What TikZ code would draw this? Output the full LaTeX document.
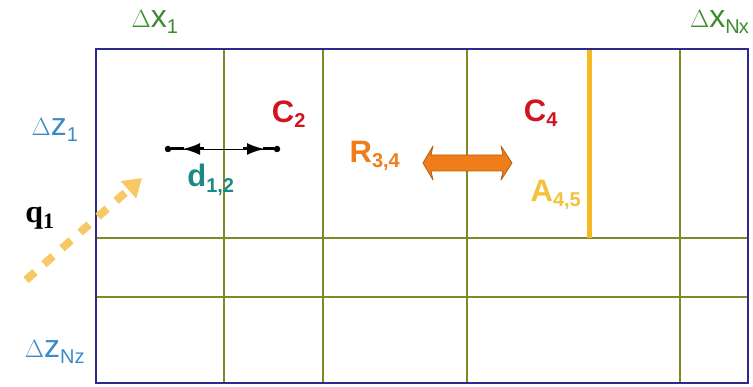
\documentclass[tikz,border=0pt]{standalone}
\usepackage{fontspec}
\setmainfont{Liberation Sans}
\newfontfamily\serifbold{Liberation Serif}
\usetikzlibrary{arrows.meta}
\definecolor{borderc}{HTML}{2E2A8C}
\definecolor{gridc}{HTML}{7F8A26}
\definecolor{barc}{HTML}{F6B823}
\definecolor{greenl}{HTML}{3C8C2E}
\definecolor{bluel}{HTML}{3A8CC8}
\definecolor{redl}{HTML}{D2141E}
\definecolor{orangel}{HTML}{F07D1A}
\definecolor{yellowl}{HTML}{F2C23A}
\definecolor{teall}{HTML}{1C8A84}
\definecolor{qarrow}{HTML}{F8C865}
\tikzset{
  gridline/.style={gridc, line width=1.8pt},
  lbl/.style={font=\fontsize{32}{34}\selectfont, inner sep=0pt},
  blbl/.style={font=\bfseries\fontsize{31}{33}\selectfont, inner sep=0pt},
  dotc/.style={circle, fill=black, inner sep=0pt, minimum size=6.5pt},
}
\newcommand{\subsm}[1]{\textsubscript{\fontsize{20}{22}\selectfont #1}}
\begin{document}
\begin{tikzpicture}[x=1pt,y=-1pt]
\useasboundingbox (0,0) rectangle (753,387);
% grid
\foreach \x in {224,323,467,680}
  \draw[gridline] (\x,49) -- (\x,383);
\foreach \y in {238,297}
  \draw[gridline] (96,\y) -- (748,\y);
% interface A
\draw[barc, line width=5pt] (589,49) -- (589,238);
% border
\draw[borderc, line width=2.4pt] (96,49) rectangle (748,383);
% labels
\node[lbl, text=greenl] (dx1) at (155,22) {$\Delta$x\subsm{1}};
\node[lbl, text=greenl, anchor=west] (dxn) at (690,22) {$\Delta$x\subsm{N\hspace{-1pt}x}};
\node[lbl, text=bluel] (dz1) at (55,130) {$\Delta$z\subsm{1}};
\node[lbl, text=bluel] (dzn) at (55,352) {$\Delta$z\subsm{Nz}};
\node[blbl, text=redl] (c2) at (289,114) {C\subsm{2}};
\node[blbl, text=redl] (c4) at (541,113) {C\subsm{4}};
\node[blbl, text=orangel] (r34) at (375,156) {R\subsm{3,4}};
\node[blbl, text=yellowl] (a45) at (556,195) {A\subsm{4,5}};
\node[blbl, text=teall] (d12) at (211,180) {d\subsm{1,2}};
\node[inner sep=0pt, font=\serifbold\bfseries\fontsize{32}{34}\selectfont] (q1) at (40,218) {q\textsubscript{\fontsize{22}{24}\selectfont 1}};
% distance arrow
\node[dotc] (p1) at (168,149) {};
\node[dotc] (p2) at (277,149) {};
\coordinate (m1) at (204,149);
\coordinate (m2) at (243,149);
\draw[line width=0.8pt] (p1) -- (p2);
\draw[line width=3pt, -{Latex[length=18pt,width=12pt]}] (m1) -- ([xshift=-22pt]m1);
\draw[line width=3pt, -{Latex[length=18pt,width=12pt]}] (m2) -- ([xshift=22pt]m2);
\draw[line width=3pt] ([xshift=-20pt]m1) -- (p1);
\draw[line width=3pt] ([xshift=20pt]m2) -- (p2);
% double arrow R
\coordinate (rc) at (467,163);
\draw[orangel!75!black, fill=orangel, line width=0.8pt, line join=round]
  ([xshift=-44pt]rc) -- ([xshift=-34pt,yshift=-17pt]rc) -- ([xshift=-36pt,yshift=-8pt]rc)
  -- ([xshift=36pt,yshift=-8pt]rc) -- ([xshift=34pt,yshift=-17pt]rc) -- ([xshift=45pt]rc)
  -- ([xshift=34pt,yshift=17pt]rc) -- ([xshift=36pt,yshift=8pt]rc)
  -- ([xshift=-36pt,yshift=8pt]rc) -- ([xshift=-34pt,yshift=17pt]rc) -- cycle;
% q1 incoming dashed arrow
\coordinate (qs) at (26,280);
\coordinate (qe) at (142,178);
\draw[qarrow, line width=8pt, dash pattern=on 12pt off 12pt, -{Triangle[length=18pt,width=22pt]}] (qs) -- (qe);
\end{tikzpicture}
\end{document}
